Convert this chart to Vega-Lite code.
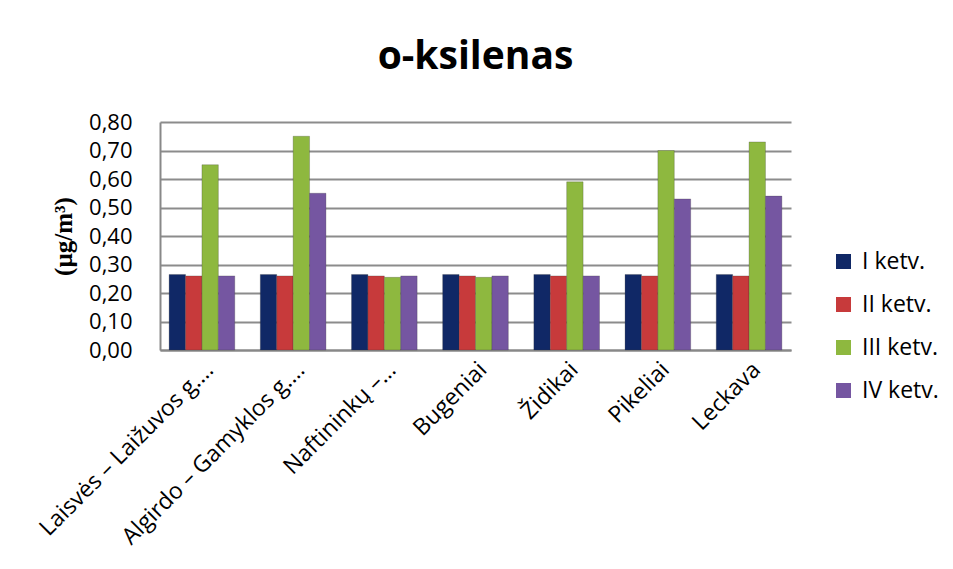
{
  "$schema": "https://vega.github.io/schema/vega-lite/v6.json",
  "autosize": {"type": "none"},
  "width": 631,
  "height": 228,
  "padding": {"left": 160, "top": 122, "right": 162, "bottom": 219},
  "background": "white",
  "title": {"text": "o-ksilenas", "font": "Open Sans", "fontSize": 39, "fontWeight": "bold", "color": "#000000", "anchor": "middle", "offset": 34},
  "data": {"values": [
    {"site": "Laisvės – Laižuvos g.…", "q": "I ketv.", "v": 0.265},
    {"site": "Laisvės – Laižuvos g.…", "q": "II ketv.", "v": 0.26},
    {"site": "Laisvės – Laižuvos g.…", "q": "III ketv.", "v": 0.65},
    {"site": "Laisvės – Laižuvos g.…", "q": "IV ketv.", "v": 0.26},
    {"site": "Algirdo – Gamyklos g.…", "q": "I ketv.", "v": 0.265},
    {"site": "Algirdo – Gamyklos g.…", "q": "II ketv.", "v": 0.26},
    {"site": "Algirdo – Gamyklos g.…", "q": "III ketv.", "v": 0.75},
    {"site": "Algirdo – Gamyklos g.…", "q": "IV ketv.", "v": 0.55},
    {"site": "Naftininkų –…", "q": "I ketv.", "v": 0.265},
    {"site": "Naftininkų –…", "q": "II ketv.", "v": 0.26},
    {"site": "Naftininkų –…", "q": "III ketv.", "v": 0.255},
    {"site": "Naftininkų –…", "q": "IV ketv.", "v": 0.26},
    {"site": "Bugeniai", "q": "I ketv.", "v": 0.265},
    {"site": "Bugeniai", "q": "II ketv.", "v": 0.26},
    {"site": "Bugeniai", "q": "III ketv.", "v": 0.255},
    {"site": "Bugeniai", "q": "IV ketv.", "v": 0.26},
    {"site": "Židikai", "q": "I ketv.", "v": 0.265},
    {"site": "Židikai", "q": "II ketv.", "v": 0.26},
    {"site": "Židikai", "q": "III ketv.", "v": 0.59},
    {"site": "Židikai", "q": "IV ketv.", "v": 0.26},
    {"site": "Pikeliai", "q": "I ketv.", "v": 0.265},
    {"site": "Pikeliai", "q": "II ketv.", "v": 0.26},
    {"site": "Pikeliai", "q": "III ketv.", "v": 0.70},
    {"site": "Pikeliai", "q": "IV ketv.", "v": 0.53},
    {"site": "Leckava", "q": "I ketv.", "v": 0.265},
    {"site": "Leckava", "q": "II ketv.", "v": 0.26},
    {"site": "Leckava", "q": "III ketv.", "v": 0.73},
    {"site": "Leckava", "q": "IV ketv.", "v": 0.54}
  ]},
  "mark": {"type": "bar", "stroke": "#333333", "strokeWidth": 0.5, "strokeOpacity": 0.5},
  "encoding": {
    "x": {
      "field": "site", "type": "nominal", "sort": null,
      "scale": {"paddingInner": 0.28, "paddingOuter": 0.1},
      "axis": {"title": null, "labelAngle": -45, "labelAlign": "right", "labelBaseline": "top", "labelFont": "Open Sans", "labelFontSize": 23, "labelColor": "#000000", "labelLimit": 400, "ticks": false, "domainColor": "#888888", "domainWidth": 2, "labelPadding": 8}
    },
    "xOffset": {"field": "q", "type": "nominal", "sort": ["I ketv.", "II ketv.", "III ketv.", "IV ketv."], "scale": {"paddingInner": 0}},
    "y": {
      "field": "v", "type": "quantitative",
      "scale": {"domain": [0, 0.8], "nice": false},
      "axis": {"values": [0, 0.1, 0.2, 0.3, 0.4, 0.5, 0.6, 0.7, 0.8], "labelExpr": "replace(format(datum.value, '.2f'), '.', ',')", "labelFont": "Open Sans", "labelFontSize": 22, "labelColor": "#000000", "labelPadding": 28, "ticks": false, "domainColor": "#888888", "domainWidth": 2, "gridColor": "#8c8c8c", "gridWidth": 2,
        "title": "(µg/m³)", "titleFont": "Liberation Serif", "titleFontSize": 25, "titleFontWeight": "bold", "titleColor": "#000000", "titlePadding": 12}
    },
    "color": {
      "field": "q", "type": "nominal", "sort": ["I ketv.", "II ketv.", "III ketv.", "IV ketv."],
      "scale": {"domain": ["I ketv.", "II ketv.", "III ketv.", "IV ketv."], "range": ["#102866", "#c73a3b", "#8eb83f", "#7556a1"]},
      "legend": {"title": null, "orient": "none", "legendX": 672, "legendY": 128, "symbolType": "square", "symbolSize": 225, "symbolStrokeWidth": 0, "labelFont": "Open Sans", "labelFontSize": 23, "labelColor": "#000000", "rowPadding": 19, "labelOffset": 7}
    }
  },
  "config": {"view": {"stroke": null}}
}
